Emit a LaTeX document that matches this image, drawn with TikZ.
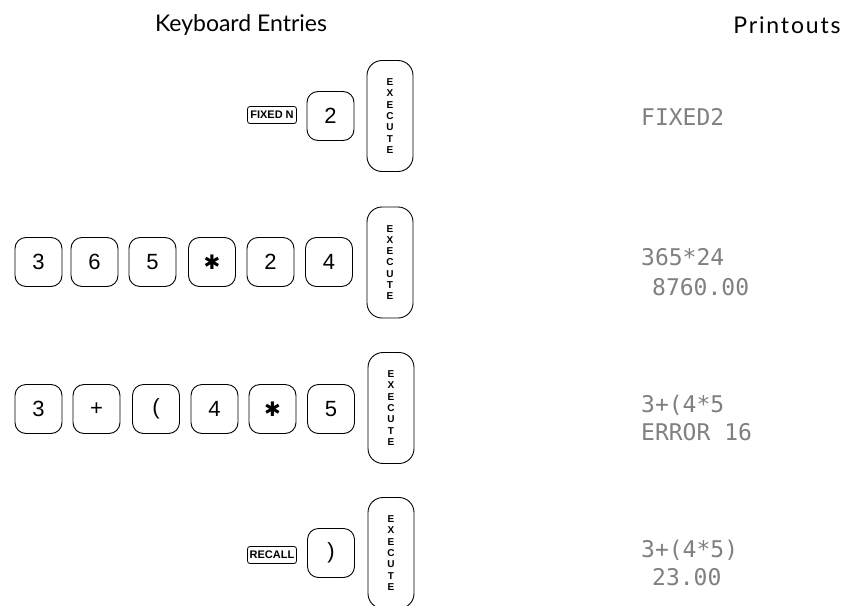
\documentclass[tikz,border=0pt]{standalone}
\usepackage{fontspec}
\setmainfont{Liberation Sans}
\newfontfamily\headfont{Lato}
\newfontfamily\printfont{DejaVu Sans Mono}
\newfontfamily\symfont{DejaVu Sans}
\begin{document}
\begin{tikzpicture}[x=1pt,y=-1pt,
  keybox/.style={draw, line width=0.9pt, rounded corners=11pt, minimum width=47pt, minimum height=49pt, inner sep=0pt, font=\fontsize{22}{24}\selectfont},
  execbox/.style={draw, line width=0.9pt, rounded corners=15pt, minimum width=46pt, minimum height=111pt, inner sep=0pt, align=center, font=\bfseries\fontsize{10}{11.3}\selectfont},
  smallbox/.style={draw, line width=0.8pt, rounded corners=2.5pt, minimum width=49pt, minimum height=17pt, inner sep=0pt, font=\bfseries\fontsize{11}{12}\selectfont},
  head/.style={font=\headfont\fontsize{23}{26}\selectfont},
  prt/.style={anchor=base west, inner sep=0pt, text=black!50, font=\printfont\fontsize{23}{25}\selectfont}
]
\useasboundingbox (0,0) rectangle (848,605);
\newcommand{\execlabel}{E\\X\\E\\C\\U\\T\\E}
\newcommand{\keyast}{{\symfont\fontsize{20}{22}\selectfont ✱}}
% headings
\node[head] (h1) at (241,25) {Keyboard Entries};
\node[head] (h2) at (787,25) {\addfontfeature{LetterSpace=8}Printouts};
% row 1
\node[smallbox] (fixn) at (272,115) {FIXED N};
\node[keybox] (r1k2) at (330.5,116) {2};
\node[execbox] (ex1) at (390,116) {\execlabel};
\node[prt] (p1) at (641,125) {FIXED2};
% row 2
\node[keybox] (r2a) at (38.5,262) {3};
\node[keybox] (r2b) at (94.5,262) {6};
\node[keybox] (r2c) at (152.5,262) {5};
\node[keybox] (r2d) at (212,262) {\keyast};
\node[keybox] (r2e) at (270.5,262) {2};
\node[keybox] (r2f) at (329,262) {4};
\node[execbox] (ex2) at (390,262.5) {\execlabel};
\node[prt] (p2a) at (641,265) {365*24};
\node[prt] (p2b) at (652,295) {8760.00};
% row 3
\node[keybox] (r3a) at (38.5,409) {3};
\node[keybox] (r3b) at (96.5,409) {+};
\node[keybox] (r3c) at (156,409) {(};
\node[keybox] (r3d) at (214.5,409) {4};
\node[keybox] (r3e) at (272.5,409) {\keyast};
\node[keybox] (r3f) at (331,409) {5};
\node[execbox] (ex3) at (391,408) {\execlabel};
\node[prt] (p3a) at (641,412) {3+(4*5};
\node[prt] (p3b) at (641,440) {ERROR 16};
% row 4
\node[smallbox] (recall) at (272,555) {RECALL};
\node[keybox] (r4k) at (331,553) {)};
\node[execbox] (ex4) at (391,553) {\execlabel};
\node[prt] (p4a) at (641,557) {3+(4*5)};
\node[prt] (p4b) at (652,585) {23.00};
\end{tikzpicture}
\end{document}
